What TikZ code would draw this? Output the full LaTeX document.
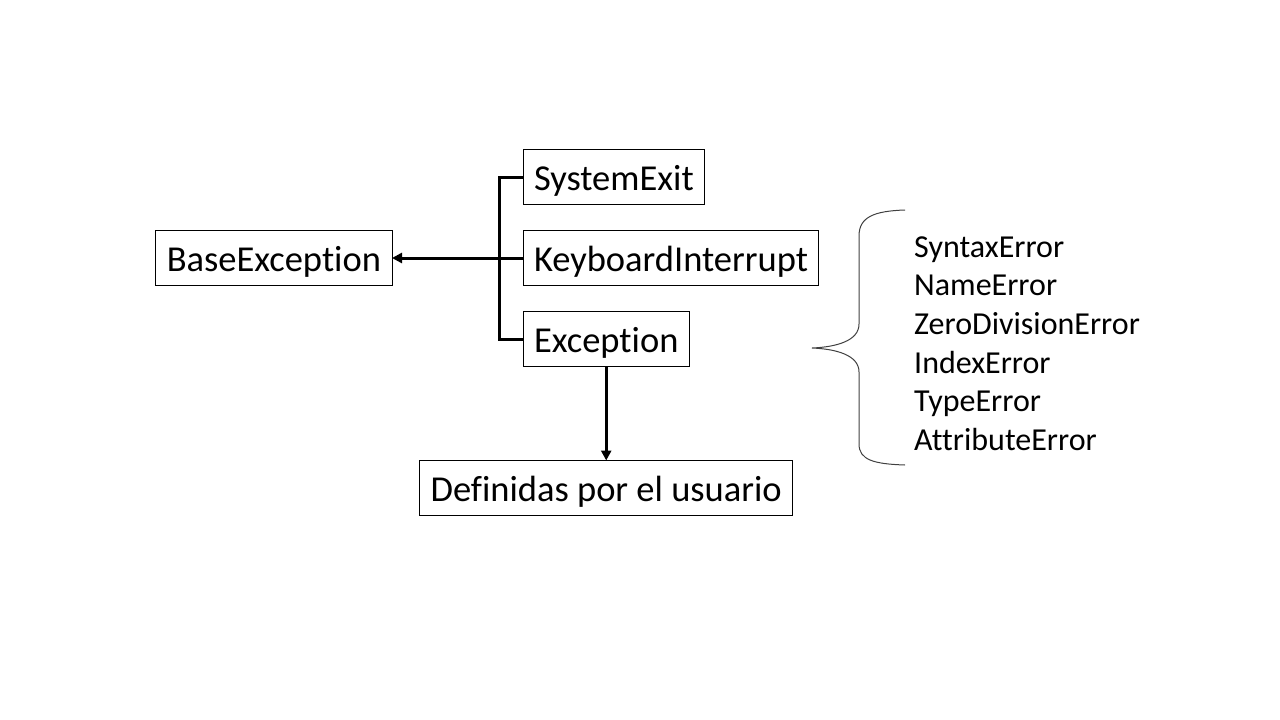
\documentclass[tikz,border=0pt]{standalone}
\usepackage{fontspec}
\setmainfont{Carlito}[Ligatures=NoCommon]
\usetikzlibrary{arrows.meta,positioning}
\definecolor{BraceC}{RGB}{64,64,64}
\tikzset{
  exbox/.style={draw=black,line width=1pt,minimum height=55pt,inner xsep=11pt,
                inner ysep=0pt,outer sep=0pt,text height=30pt,text depth=4pt,
                font=\fontsize{36.5}{44}\selectfont},
  link/.style={line width=3pt,black},
  toarrow/.style={link,-{Triangle[length=10pt,width=10pt]}},
  brace/.style={line width=1pt,BraceC},
}

\begin{document}
\begin{tikzpicture}[x=1pt,y=1pt]
  \useasboundingbox (0,0) rectangle (1280,-720);
  \node[exbox,anchor=west] (sysexit) at (523,-177) {SystemExit};
  \node[exbox,below=26pt of sysexit.south west,anchor=north west] (kbd) {KeyboardInterrupt};
  \node[exbox,below=26pt of kbd.south west,anchor=north west] (exc) {Exception};
  \node[exbox,left=131pt of kbd.west,anchor=east] (base) {BaseException};
  \node[exbox,below=94pt of exc] (user) {Definidas por el usuario};
  \coordinate[left=24pt of kbd.west] (trunk);
  % ramas hacia BaseException
  \draw[link] (sysexit.west) -| (trunk) |- (exc.west);
  \draw[toarrow] (kbd.west) -- (base.east);
  \draw[toarrow] (exc.south) -- (user.north);
  % subclases de Exception
  \node[anchor=west,align=left,inner sep=0pt,
        font=\fontsize{32}{38.7}\selectfont] (errs) at (914,-343.5)
    {SyntaxError\\NameError\\ZeroDivisionError\\IndexError\\TypeError\\AttributeError};
  \draw[brace] (905,-210) .. controls (874,-211) and (859,-217) .. (859,-236)
    -- (859,-324) .. controls (859,-341) and (836,-347) .. (812,-348)
    .. controls (836,-349) and (859,-355) .. (859,-372)
    -- (859,-444) .. controls (859,-460) and (874,-464) .. (905,-465);
\end{tikzpicture}
\end{document}
